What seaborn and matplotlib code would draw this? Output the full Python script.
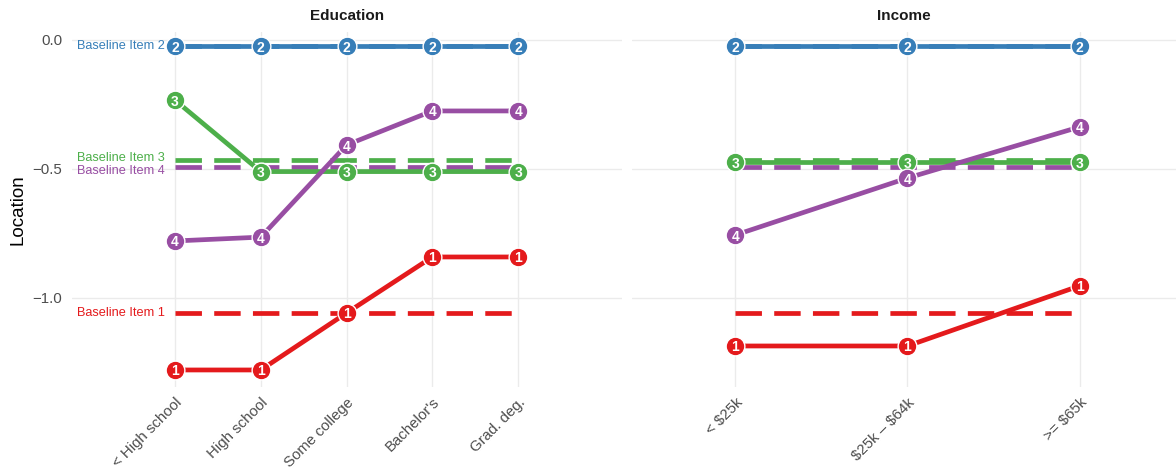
import numpy as np
import pandas as pd
import matplotlib
matplotlib.use("Agg")
import matplotlib.pyplot as plt
import seaborn as sns

# Category labels for each facet
edu_cats = ["< High school", "High school", "Some college", "Bachelor's", "Grad. deg."]
inc_cats = ["< $25k", "$25k \u2013 $64k", ">= $65k"]

# Item locations by education level
edu_item1 = [-1.279, -1.279, -1.058, -0.841, -0.841]
edu_item2 = [-0.025, -0.025, -0.025, -0.025, -0.025]
edu_item3 = [-0.233, -0.510, -0.510, -0.510, -0.510]
edu_item4 = [-0.779, -0.764, -0.407, -0.275, -0.275]

# Item locations by income level
inc_item1 = [-1.186, -1.186, -0.953]
inc_item2 = [-0.025, -0.025, -0.025]
inc_item3 = [-0.473, -0.473, -0.473]
inc_item4 = [-0.756, -0.535, -0.337]

# Baseline (pooled) locations per item
items = [1, 2, 3, 4]
baseline_loc = [-1.058, -0.025, -0.465, -0.492]

colors = {1: "#E41A1C", 2: "#377EB8", 3: "#4DAF4A", 4: "#984EA3"}


def long_frame(cats, series):
    rows = []
    for item, vals in zip(items, series):
        for i, (c, v) in enumerate(zip(cats, vals)):
            rows.append({"pos": i, "group": c, "item": item, "loc": v})
    return pd.DataFrame(rows)


edu_df = long_frame(edu_cats, [edu_item1, edu_item2, edu_item3, edu_item4])
inc_df = long_frame(inc_cats, [inc_item1, inc_item2, inc_item3, inc_item4])

sns.set_theme(style="whitegrid")
plt.rcParams["font.family"] = ["Liberation Sans", "DejaVu Sans"]

W, H = 1176, 472
fig = plt.figure(figsize=(W / 100, H / 100), dpi=100)
ax_edu = fig.add_axes([72 / W, (H - 387) / H, 550 / W, 355 / H])
ax_inc = fig.add_axes([632 / W, (H - 387) / H, 544 / W, 355 / H])

LW = 3.4
grid_c = "#EBEBEB"
tick_c = "#4D4D4D"


def draw_panel(ax, df, cats, title, xlim, show_labels):
    ax.set_facecolor("white")
    n = len(cats)
    # dashed baselines across the category range
    for item, b in zip(items, baseline_loc):
        ax.plot([0, n - 1], [b, b], color=colors[item], lw=LW,
                linestyle=(0, (5.6, 2.6)), dash_capstyle="butt", zorder=2)
    sns.lineplot(data=df, x="pos", y="loc", hue="item", palette=colors,
                 linewidth=LW, legend=False, ax=ax, zorder=3,
                 estimator=None, sort=True)
    for item in items:
        sub = df[df["item"] == item]
        ax.scatter(sub["pos"], sub["loc"], s=13.5 ** 2, color=colors[item],
                   edgecolor="white", linewidth=1.0, zorder=5)
        for _, r in sub.iterrows():
            ax.text(r["pos"], r["loc"], str(item), color="white",
                    fontsize=10, fontweight="bold", ha="center",
                    va="center_baseline", zorder=6)
    if show_labels:
        offsets = {1: 0, 2: 0, 3: 1.5, 4: -3}
        for item, b in zip(items, baseline_loc):
            ax.annotate(f"Baseline Item {item}", xy=(0, b),
                        xytext=(-7, offsets[item]), textcoords="offset points",
                        ha="right", va="center", color=colors[item],
                        fontsize=9.2, zorder=4)
    ax.set_xlim(*xlim)
    ax.set_ylim(-1.345, 0.031)
    ax.set_xticks(range(n))
    ax.set_xticklabels([c.replace("$", r"\$") for c in cats], rotation=45,
                       ha="right", va="top", rotation_mode="anchor",
                       color=tick_c, fontsize=10.8)
    ax.set_yticks([0.0, -0.5, -1.0])
    ax.set_yticklabels(["0.0", "\u22120.5", "\u22121.0"], color=tick_c,
                       fontsize=10.8)
    ax.grid(True, color=grid_c, linewidth=1.0)
    ax.set_axisbelow(True)
    for s in ax.spines.values():
        s.set_visible(False)
    ax.tick_params(axis="y", length=0, pad=7)
    ax.tick_params(axis="x", length=0, pad=6)
    ax.set_xlabel("")
    ax.set_title(title, fontsize=11, fontweight="bold", color="#1A1A1A",
                 pad=9)


draw_panel(ax_edu, edu_df, edu_cats, "Education", (-1.2, 5.21), True)
draw_panel(ax_inc, inc_df, inc_cats, "Income", (-0.6, 2.56), False)

ax_edu.set_ylabel("Location", fontsize=13.5, color="black", labelpad=4)
ax_inc.set_ylabel("")
ax_inc.tick_params(axis="y", labelleft=False)

fig.savefig("out.png", dpi=100, facecolor="white")
